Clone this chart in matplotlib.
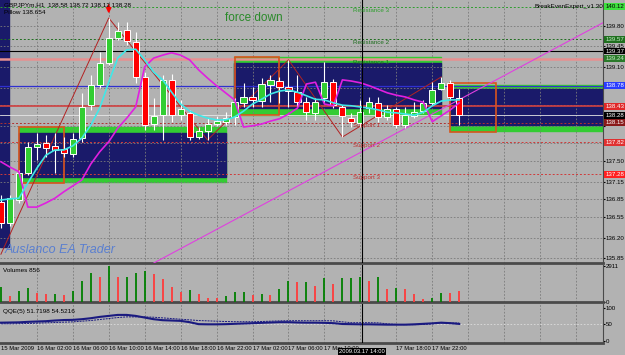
import matplotlib.pyplot as plt
from matplotlib.patches import Rectangle
from matplotlib.transforms import blended_transform_factory

plt.rcParams["font.family"] = ["Liberation Sans", "DejaVu Sans"]

# GBPJPYm H1, bar 0 = 15 Mar 2009 22:00
opens = [136.81, 136.45, 136.84, 137.30, 137.74, 137.81, 137.76, 137.71, 137.62, 137.89,
         138.45, 138.79, 139.17, 139.59, 139.73, 139.52, 138.93, 138.13, 138.28, 138.88,
         138.28, 138.32, 137.91, 138.01, 138.13, 138.17, 138.25, 138.49, 138.59, 138.52,
         138.79, 138.86, 138.76, 138.67, 138.50, 138.32, 138.57, 138.84, 138.42, 138.23,
         138.15, 138.40, 138.49, 138.25, 138.39, 138.11, 138.27, 138.35, 138.49, 138.72,
         138.83, 138.58]
highs = [136.93, 136.93, 137.35, 137.83, 137.98, 137.94, 137.98, 137.91, 137.98, 138.66,
         138.96, 139.35, 139.93, 139.86, 139.86, 139.69, 139.01, 138.57, 138.96, 138.98,
         138.54, 138.37, 138.08, 138.23, 138.27, 138.33, 138.57, 138.83, 138.76, 138.91,
         138.96, 138.93, 139.22, 138.96, 138.59, 138.57, 139.18, 138.89, 138.45, 138.32,
         138.54, 138.59, 138.59, 138.45, 138.42, 138.42, 138.50, 138.54, 138.84, 138.93,
         138.88, 138.72]
lows = [136.37, 136.40, 136.79, 137.27, 137.52, 137.57, 137.30, 137.57, 137.57, 137.83,
        138.37, 138.74, 139.13, 139.56, 139.47, 138.83, 138.03, 138.03, 137.86, 138.16,
        138.20, 137.86, 137.88, 137.86, 138.10, 138.11, 138.11, 138.42, 138.42, 138.42,
        138.50, 138.49, 138.42, 138.42, 138.20, 138.20, 138.50, 138.40, 137.91, 138.08,
        138.08, 138.32, 138.16, 138.20, 138.06, 138.06, 138.23, 138.32, 138.45, 138.71,
        138.54, 138.12]
closes = [136.45, 136.87, 137.30, 137.74, 137.79, 137.72, 137.69, 137.64, 137.88, 138.42,
          138.79, 139.17, 139.59, 139.71, 139.54, 138.93, 138.11, 138.27, 138.88, 138.28,
          138.39, 137.91, 138.01, 138.13, 138.18, 138.23, 138.50, 138.59, 138.54, 138.81,
          138.88, 138.76, 138.69, 138.50, 138.33, 138.50, 138.84, 138.45, 138.27, 138.16,
          138.33, 138.50, 138.25, 138.39, 138.11, 138.28, 138.33, 138.49, 138.71, 138.83,
          138.59, 138.28]
ma_fast = [136.84, 136.86, 136.87, 137.13, 137.38, 137.60, 137.69, 137.69, 137.76, 137.89,
           138.11, 138.40, 138.84, 139.25, 139.39, 139.40, 139.22, 139.01, 138.88, 138.67,
           138.47, 138.35, 138.28, 138.23, 138.20, 138.20, 138.25, 138.35, 138.47, 138.55,
           138.64, 138.69, 138.71, 138.67, 138.61, 138.55, 138.54, 138.49, 138.45, 138.44,
           138.42, 138.40, 138.37, 138.33, 138.32, 138.30, 138.28, 138.33, 138.44, 138.52,
           138.54, 138.54]
ma_slow = [137.49, 137.40, 137.32, 136.72, 136.72, 136.79, 136.87, 136.98, 137.08, 137.18,
           137.45, 137.66, 137.83, 138.06, 138.23, 138.42, 139.10, 139.25, 139.30, 139.34,
           139.30, 139.22, 139.05, 138.91, 138.78, 138.66, 138.54, 138.08, 138.10, 138.13,
           138.18, 138.22, 138.30, 138.40, 138.81, 138.84, 138.47, 138.44, 138.88, 138.86,
           138.83, 138.78, 138.72, 138.66, 138.62, 138.59, 138.54, 138.50, 138.17, 138.27,
           138.37, 138.49]
zigzag_bars = [0, 12, 23, 32, 38, 49]
zigzag_prices = [135.92, 139.93, 137.86, 139.22, 137.91, 138.93]
trend_bars = [17, 67]
trend_prices = [135.77, 139.85]

volumes = [1161, 459, 864, 1134, 756, 621, 621, 540, 891, 1701, 2295, 1998, 2911, 1998,
           2025, 2295, 2484, 2241, 1836, 1188, 810, 972, 621, 351, 297, 459, 810, 810,
           540, 621, 540, 1026, 1674, 1620, 1620, 1296, 1944, 1431, 1890, 1917, 1971,
           1674, 1971, 1053, 1134, 1053, 621, 216, 297, 729, 729, 856]
volume_dirs = "grggrrgrgggrgrgggrrrrgrrrgggrgrggrgrgrgggrgrgrrrggrr"

qqe_fast = [55.5, 56, 56.5, 58, 59, 60, 62, 63.5, 64, 66, 69, 73, 76, 79, 79, 76, 71, 66,
            63, 62, 61, 57, 51, 50.5, 50.5, 51, 52, 53, 54, 55, 56, 57, 57, 56, 55.5, 55.5,
            55, 54, 51.5, 51, 50.5, 50.5, 50, 49.5, 49.5, 49.5, 50.5, 52, 53.5, 55.5, 54, 51.7]
qqe_slow = [52, 52, 52.5, 53, 54, 55, 56, 57, 58, 60, 62, 65, 68, 71, 73, 73, 73, 72, 70,
            68, 66, 64, 62, 61, 60, 59, 58.5, 58.5, 58.5, 59, 60, 61, 61.5, 61.5, 61.5,
            61.5, 61.5, 61, 58, 55.5, 55.5, 55.5, 55, 52, 50, 49.5, 49.5, 50, 52, 54.5,
            54.5, 54.5]

price_ticks = [139.80, 139.45, 139.10, 138.75, 138.45, 138.10, 137.80, 137.50, 137.15,
               136.85, 136.55, 136.20, 135.85]
# ticks hidden behind the level marks on the price scale
hidden_ticks = [138.75, 138.45, 138.10, 137.80]
date_ticks = list(range(0, 52, 4))
# the 17 Mar 14:00 slot is covered by the crosshair date box
date_labels = ["15 Mar 2009", "16 Mar 02:00", "16 Mar 06:00", "16 Mar 10:00", "16 Mar 14:00",
               "16 Mar 18:00", "16 Mar 22:00", "17 Mar 02:00", "17 Mar 06:00", "17 Mar 10:00",
               "", "17 Mar 18:00", "17 Mar 22:00"]

# (price, box colour, text colour) of the level marks on the price scale
levels = [(140.12, "#3ee03e", "black"), (139.57, "#1f6f1f", "#c8f0c8"),
          (139.37, "black", "white"), (139.24, "#2a7a2a", "#c8f0c8"),
          (138.78, "#2a3cff", "white"), (138.43, "#e02828", "white"),
          (138.28, "black", "white"), (138.15, "#8a1a1a", "white"),
          (137.82, "#e03030", "white"), (137.28, "#ff2020", "white")]
# range boxes: x0, x1, outer top, inner top, inner bottom, outer bottom
zones = [(2.0, 25.0, 138.08, 137.98, 137.23, 137.15),
         (25.9, 49.0, 139.27, 139.17, 138.40, 138.28),
         (50.0, 67.0, 138.79, 138.72, 138.11, 138.01)]
frames = [(2.0, 7.0, 138.08, 137.13), (26.0, 31.0, 139.27, 138.28), (50.0, 55.1, 138.83, 137.99)]

BG = "#b2b2b2"
GRID = "#7a7a7a"
SEP = "#4a4a4a"
FS = 4.4

fig = plt.figure(figsize=(6.25, 3.55), dpi=100, facecolor=BG)
ax = fig.add_axes([0, 1 - 263 / 355, 603 / 625, 263 / 355], facecolor=BG)
axv = fig.add_axes([0, 1 - 302 / 355, 603 / 625, 37 / 355], facecolor=BG)
axq = fig.add_axes([0, 1 - 343 / 355, 603 / 625, 39 / 355], facecolor=BG)

for a in (ax, axv, axq):
    a.set_xlim(-0.1, 67.0)
    for s in ("left", "top"):
        a.spines[s].set_visible(False)
    a.spines["right"].set_color(SEP)
    a.spines["bottom"].set_color(SEP)
    a.spines["bottom"].set_linewidth(2)
    a.yaxis.tick_right()
    a.tick_params(axis="y", labelsize=FS, length=1.5, pad=0.6, colors="black")
    for gx in range(4, 67, 4):
        a.axvline(gx, color=GRID, lw=0.6, ls=(0, (2, 2)), zorder=1.5)
    a.axvline(40.2, color="black", lw=0.8, zorder=6)

# price panel
ax.set_ylim(135.771, 140.236)
ax.set_yticks(price_ticks)
ax.set_yticklabels(["" if p in hidden_ticks else f"{p:.2f}" for p in price_ticks])
ax.set_xticks([])
for p in price_ticks:
    ax.axhline(p, color=GRID, lw=0.6, ls=(0, (2, 2)), zorder=1.5)

ax.add_patch(Rectangle((-0.1, 136.05), 1.0, 4.2, color="#1a1a6a", zorder=1))
for x0, x1, t_out, t_in, b_in, b_out in zones:
    ax.add_patch(Rectangle((x0, b_out), x1 - x0, t_out - b_out, color="#33cc33", zorder=1))
    ax.add_patch(Rectangle((x0, b_in), x1 - x0, t_in - b_in, color="#1a1a6a", zorder=1.2))
for x0, x1, top, bot in frames:
    ax.add_patch(Rectangle((x0, bot), x1 - x0, top - bot, fill=False, ec="#d9541e", lw=1.2, zorder=3))

ax.axhline(140.12, color="#2e9e2e", lw=0.7, ls=(0, (2, 2)), zorder=2)
ax.axhline(139.57, color="#1e6e1e", lw=0.7, ls=(0, (2, 2)), zorder=2)
ax.axhline(139.37, color="black", lw=0.8, zorder=2)
ax.axhline(139.24, color="#e89090", lw=1.8, zorder=2)
ax.axhline(138.78, color="#3030d0", lw=0.9, zorder=2)
ax.axhline(138.43, color="#d04040", lw=1.2, zorder=2)
ax.axhline(138.28, color="#e6e6e6", lw=0.6, zorder=2)
ax.axhline(138.15, color="#b03030", lw=0.7, ls=(0, (2, 2)), zorder=2)
ax.axhline(137.82, color="#d03a3a", lw=0.7, ls=(0, (2, 2)), zorder=2)
ax.axhline(137.28, color="#d03a3a", lw=0.7, ls=(0, (2, 2)), zorder=2)

ax.plot(trend_bars, trend_prices, color="#e040e0", lw=0.8, zorder=3)
ax.plot(zigzag_bars, zigzag_prices, color="#b22222", lw=0.7, zorder=3)

bars = list(range(len(opens)))
body_low = [min(o, c) for o, c in zip(opens, closes)]
body_h = [max(abs(c - o), 0.015) for o, c in zip(opens, closes)]
body_col = ["#32cd32" if c >= o else "#ff0000" for o, c in zip(opens, closes)]
ax.vlines(bars, lows, highs, color="white", lw=0.8, zorder=4)
ax.bar(bars, body_h, bottom=body_low, width=0.68, color=body_col,
       edgecolor="white", linewidth=0.7, zorder=5)

ax.plot(bars, ma_slow, color="#e020e0", lw=1.2, zorder=5.5)
ax.plot(bars, ma_fast, color="#40e8e8", lw=1.2, zorder=5.5)
ax.annotate("", xy=(12, 139.96), xytext=(12, 140.2),
            arrowprops=dict(arrowstyle="-|>", color="red", lw=1.2, mutation_scale=7), zorder=7)

tr = blended_transform_factory(ax.transAxes, ax.transData)
for price, fc, tc in levels:
    ax.text(1.004, price, f"{price:.2f}", transform=tr, fontsize=FS, color=tc, va="center",
            ha="left", clip_on=False, zorder=8,
            bbox=dict(boxstyle="square,pad=0.15", fc=fc, ec="none"))

for name, price, col in [("Resistance 3", 140.06, "#2e9e2e"), ("Resistance 2", 139.51, "#1e6e1e"),
                         ("Resistance 1", 139.18, "#1e6e1e"), ("Support 1", 138.10, "#c03030"),
                         ("Support 2", 137.76, "#c03030"), ("Support 3", 137.22, "#c03030")]:
    ax.text(39.2, price, name, fontsize=4.5, color=col, va="center", zorder=6)

ax.text(0.006, 0.99, "GBPJPYm,H1  138.58 138.72 138.12 138.28", transform=ax.transAxes,
        fontsize=4.6, va="top", zorder=8)
ax.text(0.006, 0.962, "Pillow 138.654", transform=ax.transAxes, fontsize=4.6, va="top", zorder=8)
ax.text(0.373, 0.93, "force down", transform=ax.transAxes, fontsize=8.5, color="#2a8a2a",
        va="center", zorder=8)
ax.text(0.886, 0.975, "BreakEvenExpert_v1.30", transform=ax.transAxes, fontsize=4.6,
        va="center", zorder=8)
ax.text(0.008, 0.05, "Auslanco EA Trader", transform=ax.transAxes, fontsize=9,
        color="#5a7fd0", style="italic", va="center", zorder=8)

# volume panel
vcol = ["#008000" if d == "g" else "#ff3b3b" for d in volume_dirs]
axv.vlines(bars, 0, volumes, colors=vcol, lw=1.3, zorder=4)
axv.set_ylim(0, 2960)
axv.set_yticks([0, 2911])
axv.set_yticklabels(["0", "2911"])
axv.set_xticks([])
axv.text(0.005, 0.85, "Volumes 856", transform=axv.transAxes, fontsize=4.6, va="center")

# QQE panel
axq.set_ylim(-6, 112)
axq.set_yticks([0, 50, 100])
axq.set_yticklabels(["0", "50", "100"])
axq.axhline(50, color="#dcdcdc", lw=0.6, ls=(0, (2, 2)), zorder=1.5)
axq.plot(bars, qqe_slow, color="#1a1a80", lw=0.7, ls=(0, (2, 1)), zorder=4)
axq.plot(bars, qqe_fast, color="#1a1a80", lw=1.5, zorder=5)
axq.text(0.005, 0.82, "QQE(5) 51.7198 54.5216", transform=axq.transAxes, fontsize=4.6, va="center")
axq.set_xticks(date_ticks)
axq.set_xticklabels(date_labels)
axq.tick_params(axis="x", labelsize=4.2, length=0, pad=2)
for lbl in axq.get_xticklabels():
    lbl.set_ha("left")
axq.text(40.2, -0.22, "2009.03.17 14:00",
         transform=blended_transform_factory(axq.transData, axq.transAxes),
         fontsize=4.2, color="white", ha="center", va="center", clip_on=False, zorder=9,
         bbox=dict(boxstyle="square,pad=0.2", fc="black", ec="none"))

fig.savefig("out.png", dpi=100, facecolor=BG)
